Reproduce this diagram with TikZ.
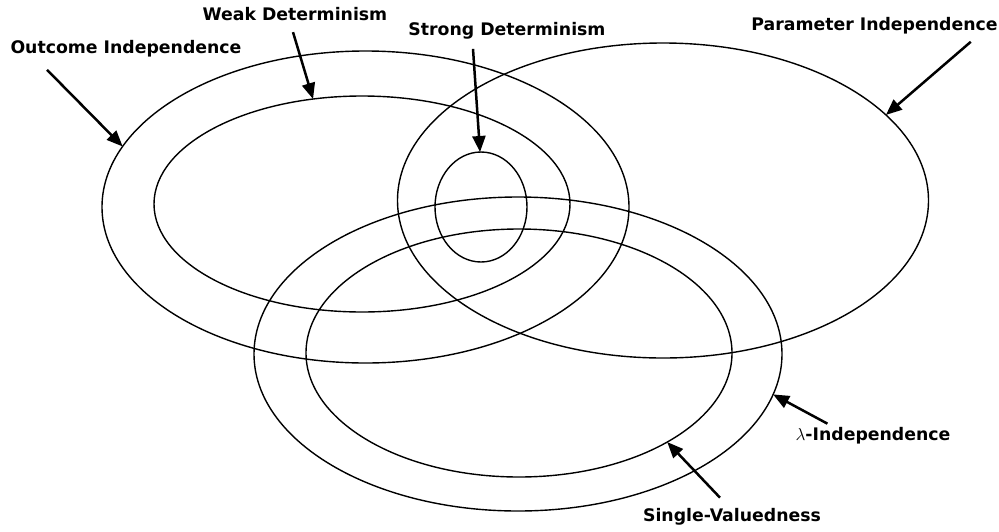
\documentclass[tikz,border=0pt]{standalone}
\usepackage{fontspec}
\setmainfont{DejaVu Sans}
\usetikzlibrary{arrows.meta,shapes.geometric}

\begin{document}
\begin{tikzpicture}[
			x=1pt,
			y=-1pt,
			set/.style={
				draw,
				ellipse,
				line width=1.4pt,
				inner sep=0pt,
				outer sep=0pt
			},
			lbl/.style={
				anchor=base,
				inner sep=2pt,
				font=\fontsize{17.3}{20}\selectfont\bfseries
			},
			pointer/.style={
				-{Triangle[length=16pt,width=13pt]},
				line width=2.5pt
			}
			]
			
			\useasboundingbox (0,0) rectangle (999,531);
			
			%%%%%%%%%%%%%%%%%%%%%%%%%%%%%%%%%%%%%%%%%%%%%%%%%%%%%%
			% Sets
			%%%%%%%%%%%%%%%%%%%%%%%%%%%%%%%%%%%%%%%%%%%%%%%%%%%%%%
			
			\node[set, minimum width=527pt, minimum height=312pt]
			(outcome) at (365.5,207) {};
			
			\node[set, minimum width=416pt, minimum height=216pt]
			(weak) at (362,204) {};
			
			\node[set, minimum width=531pt, minimum height=315pt]
			(parameter) at (663,200.5) {};
			
			\node[set, minimum width=92pt, minimum height=110pt]
			(strong) at (481,207) {};
			
			\node[set, minimum width=528pt, minimum height=314pt]
			(lambda) at (518,354) {};
			
			\node[set, minimum width=426pt, minimum height=248pt]
			(single) at (519,353) {};
			
			%%%%%%%%%%%%%%%%%%%%%%%%%%%%%%%%%%%%%%%%%%%%%%%%%%%%%%
			% Labels
			%%%%%%%%%%%%%%%%%%%%%%%%%%%%%%%%%%%%%%%%%%%%%%%%%%%%%%
			
			\node[lbl] (outcomeLbl) at (126,53) {Outcome Independence};
			
			\node[lbl] (weakLbl) at (295,20.7) {Weak Determinism};
			
			\node[lbl] (strongLbl) at (507,35) {Strong Determinism};
			
			\node[lbl] (parameterLbl) at (874.5,30) {Parameter Independence};
			
			\node[lbl] (lambdaLbl) at (873,440) {$\lambda$-Independence};
			
			\node[lbl] (singleLbl) at (732,521) {Single-Valuedness};
			
			%%%%%%%%%%%%%%%%%%%%%%%%%%%%%%%%%%%%%%%%%%%%%%%%%%%%%%
			% Pointers
			%%%%%%%%%%%%%%%%%%%%%%%%%%%%%%%%%%%%%%%%%%%%%%%%%%%%%%
			
			\draw[pointer]
			([xshift=-79pt,yshift=-11pt]outcomeLbl.south) -- (outcome.166);
			
			\draw[pointer]
			([xshift=-2pt,yshift=-9pt]weakLbl.south) -- (weak.115);
			
			\draw[pointer]
			([xshift=-34pt,yshift=-8pt]strongLbl.south) -- (strong.91);
			
			\draw[pointer]
			([xshift=-29pt,yshift=-6pt]parameterLbl.south east) -- (parameter.21);
			
			\draw[pointer]
			([xshift=34pt,yshift=1pt]lambdaLbl.north west) -- (lambda.-9);
			
			\draw[pointer]
			([xshift=-12pt,yshift=8pt]singleLbl.north) -- (single.-31);
			
			%%%%%%%%%%%%%%%%%%%%%%%%%%%%%%%%%%%%%%%%%%%%%%%%%%%%%%
			
		\end{tikzpicture}
\end{document}
